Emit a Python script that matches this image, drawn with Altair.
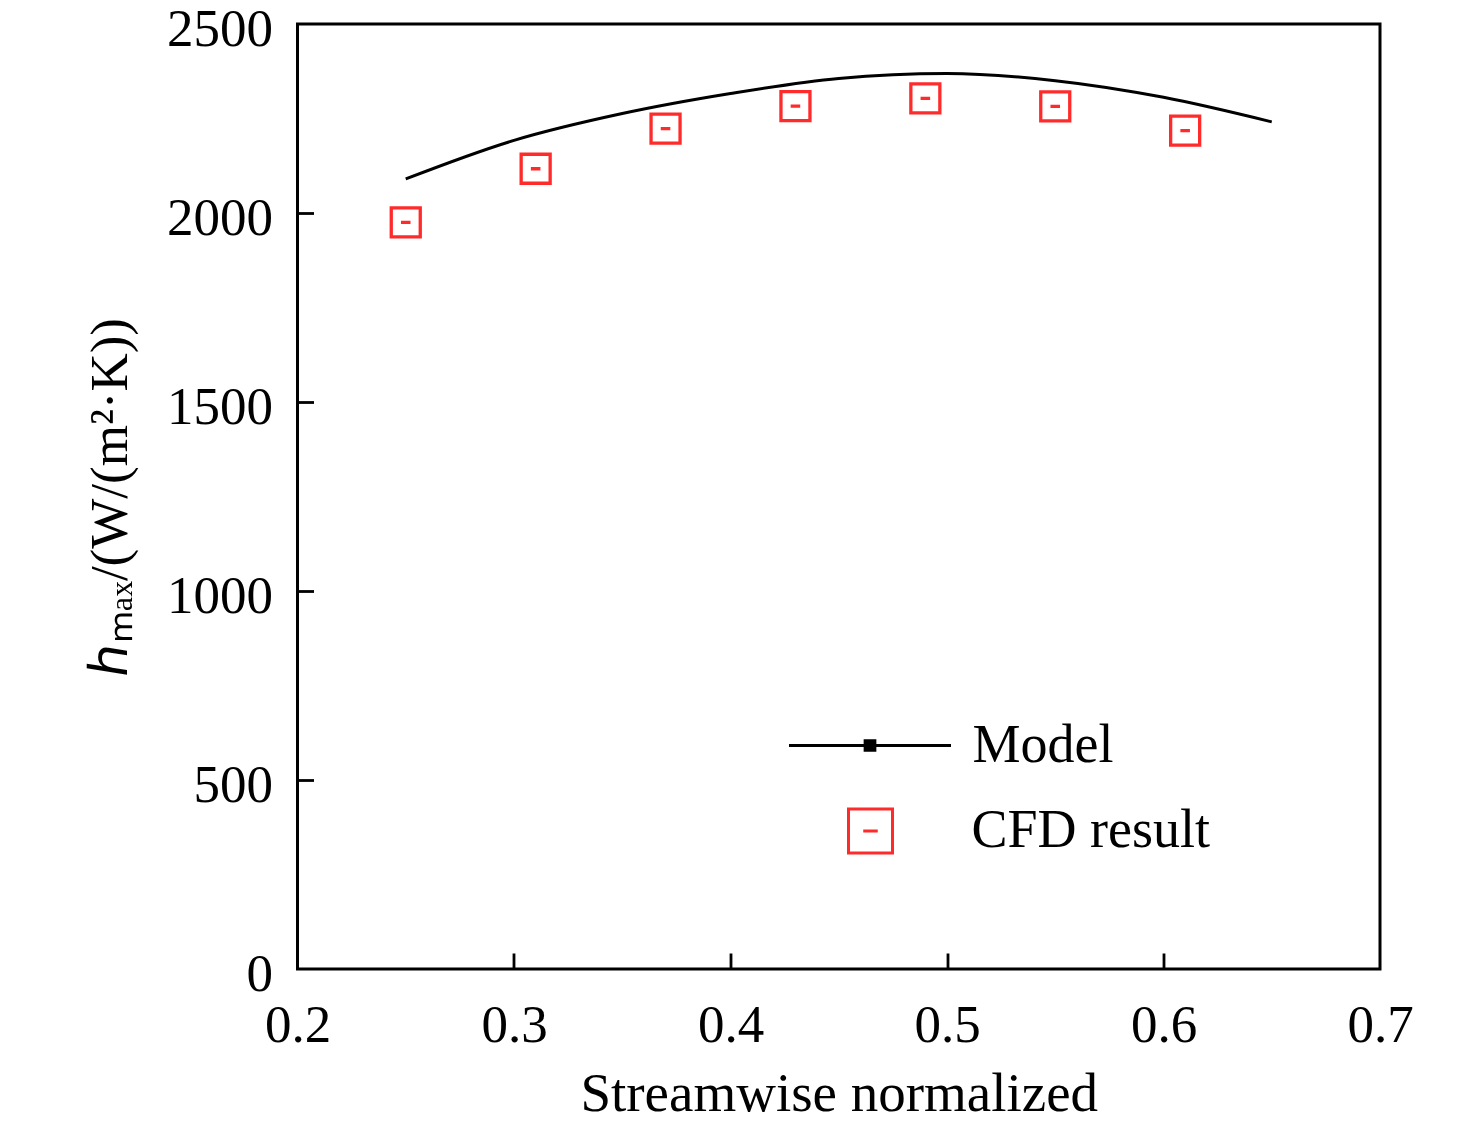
import altair as alt
import pandas as pd

# Model curve
model_x = [0.25, 0.30, 0.35, 0.40, 0.45, 0.50, 0.55, 0.60, 0.65]
model_y = [2090, 2192, 2263, 2316, 2356, 2369, 2350, 2306, 2241]

# CFD points
cfd_x = [0.25, 0.31, 0.37, 0.43, 0.49, 0.55, 0.61]
cfd_y = [1975, 2117, 2223, 2283, 2303, 2282, 2218]

x_ticks = [0.2, 0.3, 0.4, 0.5, 0.6, 0.7]
y_ticks = [0, 500, 1000, 1500, 2000, 2500]

FONT = "Liberation Serif"
RED = "#ff2b2b"
W, H = 1082.5, 945

# open square with a short dash in the middle, and a line with a dot for the legend
SQUARE = "M-1,-1H1V1H-1ZM-0.33,0H0.33"
LINE_DOT = "M-1,0H1M-0.06,-0.06H0.06V0.06H-0.06Z"

model = pd.DataFrame({"x": model_x, "y": model_y, "model": "Model"})
cfd = pd.DataFrame({"x": cfd_x, "y": cfd_y, "cfd": "CFD result"})

x_scale = alt.Scale(domain=[0.2, 0.7], nice=False)
y_scale = alt.Scale(domain=[0, 2500], nice=False)

line = (
    alt.Chart(model)
    .mark_line(interpolate="monotone", strokeWidth=3)
    .encode(
        x=alt.X(
            "x:Q",
            scale=x_scale,
            axis=alt.Axis(
                orient="bottom",
                values=x_ticks,
                format=".1f",
                ticks=False,
                tickSize=0,
                domain=False,
                grid=False,
                labelFlush=False,
                labelOverlap=False,
                labelPadding=30,
                labelFont=FONT,
                labelFontSize=53,
                labelColor="black",
                title="Streamwise normalized",
                titleFont=FONT,
                titleFontSize=55,
                titleFontWeight="normal",
                titleColor="black",
                titlePadding=14,
                minExtent=84,
                maxExtent=84,
            ),
        ),
        y=alt.Y(
            "y:Q",
            scale=y_scale,
            axis=alt.Axis(
                orient="left",
                values=y_ticks,
                format="d",
                ticks=False,
                tickSize=0,
                domain=False,
                grid=False,
                labelPadding=25,
                labelOffset=5,
                labelFont=FONT,
                labelFontSize=53,
                labelColor="black",
                title="ℎₘₐₓ/(W/(m²·K))",
                titleFont=FONT,
                titleFontSize=53,
                titleFontWeight="normal",
                titleColor="black",
                titlePadding=28,
                minExtent=132,
                maxExtent=132,
            ),
        ),
        color=alt.Color(
            "model:N",
            scale=alt.Scale(domain=["Model"], range=["black"]),
            legend=alt.Legend(
                title=None,
                orient="none",
                legendX=490,
                legendY=639,
                symbolType=LINE_DOT,
                symbolSize=162 * 162,
                symbolStrokeWidth=3,
                symbolFillColor="black",
                labelFont=FONT,
                labelFontSize=54,
                labelColor="black",
                labelOffset=20,
                labelLimit=0,
                padding=0,
            ),
        ),
    )
)

points = (
    alt.Chart(cfd)
    .mark_point(filled=False, color=RED, strokeWidth=3.3, opacity=1, size=29 * 29)
    .encode(
        x=alt.X(
            "x:Q",
            scale=x_scale,
            axis=alt.Axis(
                orient="top",
                offset=-H,
                values=[0.3, 0.4, 0.5, 0.6],
                labels=False,
                domain=False,
                grid=False,
                ticks=True,
                tickSize=16,
                tickWidth=2.8,
                tickColor="black",
                title=None,
            ),
        ),
        y=alt.Y(
            "y:Q",
            scale=y_scale,
            axis=alt.Axis(
                orient="right",
                offset=-W,
                values=[500, 1000, 1500, 2000],
                labels=False,
                domain=False,
                grid=False,
                ticks=True,
                tickSize=16,
                tickWidth=2.8,
                tickColor="black",
                title=None,
            ),
        ),
        shape=alt.Shape(
            "cfd:N",
            scale=alt.Scale(domain=["CFD result"], range=[SQUARE]),
            legend=alt.Legend(
                title=None,
                orient="none",
                legendX=546,
                legendY=780,
                symbolSize=44 * 44,
                symbolStrokeWidth=3,
                symbolStrokeColor=RED,
                labelFont=FONT,
                labelFontSize=54,
                labelColor="black",
                labelOffset=74,
                labelLimit=0,
                padding=0,
            ),
        ),
    )
)

chart = (
    alt.layer(line, points)
    .resolve_axis(x="independent", y="independent")
    .properties(
        width=W,
        height=H,
        autosize=alt.AutoSizeParams(type="none"),
        padding={"left": 289.5, "top": 16, "right": 70, "bottom": 158},
        background="white",
    )
    .configure_view(stroke="black", strokeWidth=3)
)

chart.save("out.html", embed_options={"renderer": "svg", "actions": False})
